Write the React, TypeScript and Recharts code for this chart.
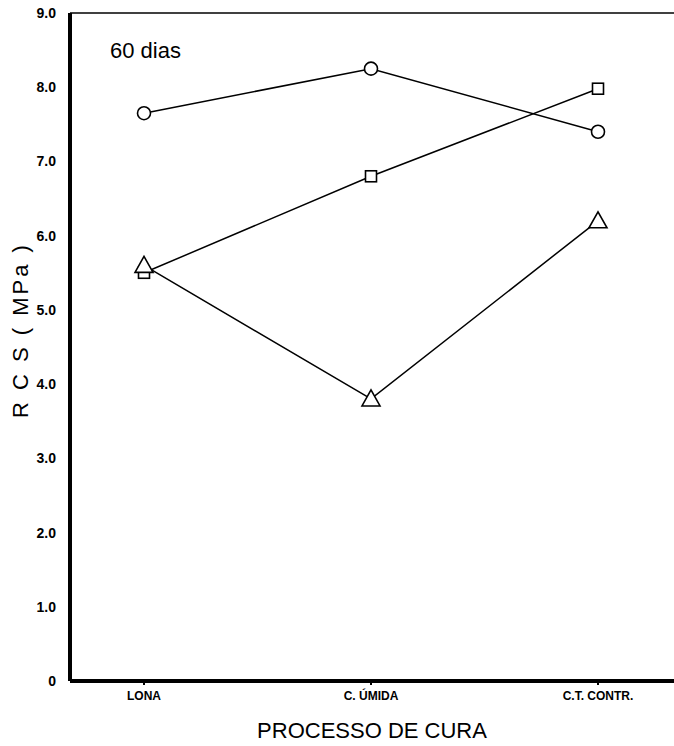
import React from "react";
import { LineChart, Line, XAxis, YAxis, ReferenceLine } from "recharts";

const categories = ["LONA", "C. ÚMIDA", "C.T. CONTR."];
const circleValues = [7.65, 8.25, 7.4];
const squareValues = [5.5, 6.8, 7.98];
const triangleValues = [5.6, 3.8, 6.2];
const yTicks = [0, 1, 2, 3, 4, 5, 6, 7, 8, 9];

const data = categories.map((c, i) => ({
  cat: c,
  circ: circleValues[i],
  sq: squareValues[i],
  tri: triangleValues[i],
}));

const CircleDot = (p: any) => (
  <circle cx={p.cx} cy={p.cy} r={6.5} fill="#fff" stroke="#000" strokeWidth={1.6} />
);
const SquareDot = (p: any) => (
  <rect x={p.cx - 5.5} y={p.cy - 5.5} width={11} height={11} fill="#fff" stroke="#000" strokeWidth={1.6} />
);
const TriDot = (p: any) => (
  <polygon
    points={`${p.cx},${p.cy - 9} ${p.cx - 9},${p.cy + 7} ${p.cx + 9},${p.cy + 7}`}
    fill="#fff"
    stroke="#000"
    strokeWidth={1.6}
  />
);

const fmt = (v: number) => (v === 0 ? "0" : v.toFixed(1));

export default function App() {
  return (
    <div style={{ position: "absolute", left: 0, top: 0, background: "#fff" }}>
      <LineChart width={674} height={746} data={data} margin={{ top: 13, right: 0, left: 0, bottom: 0 }}>
        <XAxis
          dataKey="cat"
          height={65}
          padding={{ left: 74, right: 76 }}
          axisLine={{ stroke: "#000", strokeWidth: 4 }}
          tickLine={{ stroke: "#000", strokeWidth: 2 }}
          tickSize={4}
          tickMargin={6}
          tick={{ fill: "#000", fontSize: 12, fontWeight: "bold", fontFamily: "Liberation Sans" }}
          label={{
            value: "PROCESSO DE CURA",
            position: "insideBottom",
            offset: 8,
            fill: "#000",
            fontSize: 22,
            fontFamily: "Liberation Sans",
          }}
        />
        <YAxis
          type="number"
          domain={[0, 9]}
          ticks={yTicks}
          width={70}
          tickFormatter={fmt}
          axisLine={{ stroke: "#000", strokeWidth: 4 }}
          tickLine={false}
          tickMargin={8}
          tick={{ fill: "#000", fontSize: 14, fontWeight: "bold", fontFamily: "Liberation Sans" }}
        />
        <ReferenceLine y={9} stroke="#000" strokeWidth={1.5} />
        <Line dataKey="circ" stroke="#000" strokeWidth={1.5} dot={<CircleDot />} isAnimationActive={false} />
        <Line dataKey="sq" stroke="#000" strokeWidth={1.5} dot={<SquareDot />} isAnimationActive={false} />
        <Line dataKey="tri" stroke="#000" strokeWidth={1.5} dot={<TriDot />} isAnimationActive={false} />
        <text x={110} y={58} fontSize={22} fontFamily="Liberation Sans" fill="#000">
          60 dias
        </text>
        <text
          x={20}
          y={330}
          transform="rotate(-90 20 330)"
          textAnchor="middle"
          dominantBaseline="central"
          fontSize={22}
          letterSpacing={3}
          fontFamily="Liberation Sans"
          fill="#000"
        >
          R C S  ( MPa )
        </text>
      </LineChart>
    </div>
  );
}
